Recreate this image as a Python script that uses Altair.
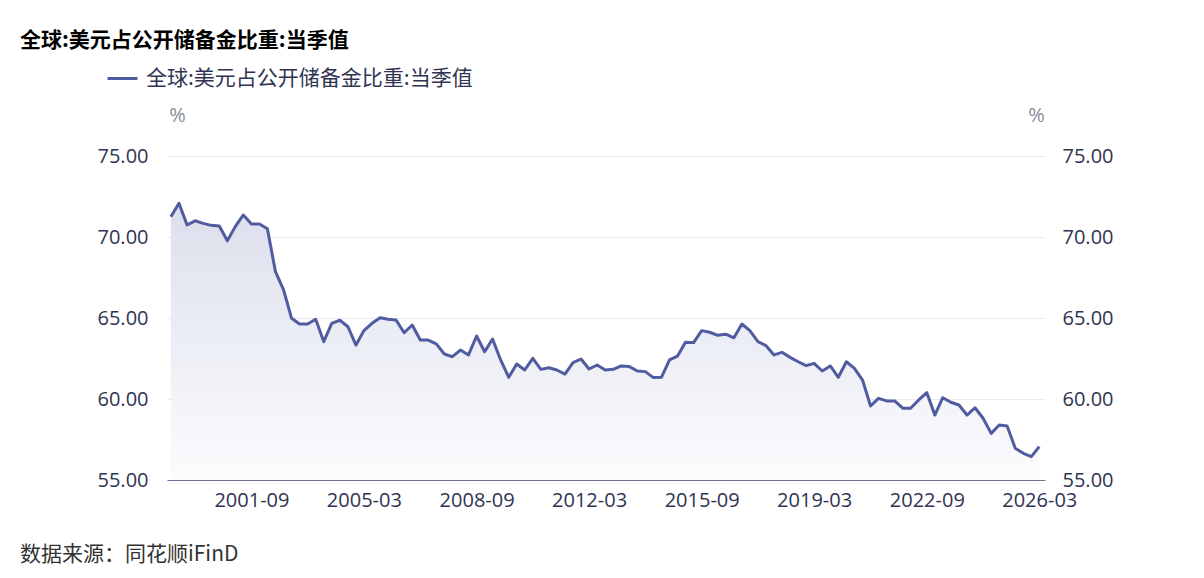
import altair as alt
import pandas as pd

series_name = "全球:美元占公开储备金比重:当季值"
title_text = "全球:美元占公开储备金比重:当季值"
source_text = "数据来源：同花顺iFinD"

# quarterly values, 1999-03 .. 2026-03
values = [
    71.25, 72.08, 70.74, 71.00, 70.84, 70.72, 70.68, 69.77, 70.64, 71.36,
    70.80, 70.80, 70.51, 67.86, 66.73, 64.98, 64.63, 64.63, 64.92, 63.54,
    64.67, 64.86, 64.46, 63.33, 64.22, 64.67, 65.02, 64.92, 64.88, 64.09,
    64.57, 63.64, 63.64, 63.40, 62.78, 62.61, 63.02, 62.72, 63.89, 62.92,
    63.70, 62.41, 61.34, 62.16, 61.79, 62.51, 61.83, 61.93, 61.79, 61.54,
    62.24, 62.47, 61.85, 62.10, 61.79, 61.83, 62.04, 62.00, 61.73, 61.69,
    61.32, 61.34, 62.41, 62.65, 63.50, 63.48, 64.22, 64.12, 63.93, 64.00,
    63.78, 64.63, 64.22, 63.54, 63.29, 62.72, 62.88, 62.57, 62.30, 62.06,
    62.20, 61.73, 62.04, 61.34, 62.30, 61.89, 61.17, 59.57, 60.04, 59.88,
    59.88, 59.43, 59.43, 59.94, 60.39, 59.01, 60.08, 59.80, 59.63, 59.01,
    59.46, 58.81, 57.88, 58.40, 58.33, 56.96, 56.65, 56.44, 57.06,
]
dates = [d.strftime("%Y-%m-%d") for d in pd.date_range("1999-03-01", periods=len(values), freq="3MS")]
x_tick_labels = ["2001-09", "2005-03", "2008-09", "2012-03", "2015-09", "2019-03", "2022-09", "2026-03"]
y_ticks = [55, 60, 65, 70, 75]

df = pd.DataFrame({"date": dates, "value": values, "series": series_name})

LINE = "#505ba0"
LABEL = "#2f3452"
GRID = "#e9eaf3"
FONT = "Open Sans, Noto Sans CJK SC"
CJK = "Noto Sans CJK SC"

x_vals = [alt.DateTime(year=int(s[:4]), month=int(s[5:]), date=1, utc=True) for s in x_tick_labels]
x_enc = alt.X(
    "date:T",
    scale=alt.Scale(type="utc", domain=[alt.DateTime(year=1999, month=1, date=16, utc=True),
                                        alt.DateTime(year=2026, month=5, date=5, utc=True)]),
    axis=alt.Axis(values=x_vals, labelExpr="utcFormat(datum.value, '%Y-%m')", title=None,
                  grid=False, ticks=False, domainColor="#6e7399", domainWidth=1.2,
                  labelColor=LABEL, labelFont=FONT, labelFontSize=20, labelPadding=10,
                  labelFlush=False, labelOverlap=False),
)

yscale = alt.Scale(domain=[55, 75], nice=False, zero=False)

area = alt.Chart(df).mark_area(
    color=alt.Gradient(gradient="linear",
                       stops=[alt.GradientStop(color="#dcdfec", offset=0),
                              alt.GradientStop(color="#fcfcfe", offset=1)],
                       x1=1, x2=1, y1=0, y2=1),
).encode(
    x=x_enc,
    y=alt.Y("value:Q", scale=yscale,
            axis=alt.Axis(orient="right", values=y_ticks, format=".2f", grid=False, ticks=False,
                          domain=False, labelColor=LABEL, labelFont=FONT, labelFontSize=20,
                          labelPadding=17, title="%", titleAngle=0, titleX=-9, titleY=-41,
                          titleAlign="center", titleBaseline="middle", titleColor="#8a8d9a",
                          titleFont=FONT, titleFontSize=20, titleFontWeight="normal")),
    y2=alt.datum(55),
)

line = alt.Chart(df).mark_line(strokeWidth=3, strokeJoin="round").encode(
    x=x_enc,
    y=alt.Y("value:Q", scale=yscale,
            axis=alt.Axis(orient="left", values=y_ticks, format=".2f", grid=True, gridColor=GRID,
                          gridWidth=1, ticks=False, domain=False, labelColor=LABEL, labelFont=FONT,
                          labelFontSize=20, labelPadding=19, title="%", titleAngle=0, titleX=10,
                          titleY=-41, titleAlign="center", titleBaseline="middle",
                          titleColor="#8a8d9a", titleFont=FONT, titleFontSize=20,
                          titleFontWeight="normal")),
    color=alt.Color("series:N", scale=alt.Scale(range=[LINE]),
                    legend=alt.Legend(orient="none", legendX=-61, legendY=-94, title=None,
                                      symbolType="stroke", symbolSize=900, symbolStrokeWidth=3,
                                      labelFont=CJK, labelFontSize=21, labelColor=LABEL,
                                      labelOffset=7, labelLimit=600)),
)

title = alt.Chart(pd.DataFrame({"t": [title_text]})).mark_text(
    align="left", baseline="middle", font=CJK, fontSize=21, fontWeight="bold", color="#000000"
).encode(text="t:N", x=alt.value(-147), y=alt.value(-115))

source = alt.Chart(pd.DataFrame({"t": [source_text]})).mark_text(
    align="left", baseline="middle", font=CJK, fontSize=21, color="#333333"
).encode(text="t:N", x=alt.value(-147), y=alt.value(399))

chart = alt.layer(area, line, title, source).resolve_scale(y="independent").properties(
    width=878, height=324,
    autosize=alt.AutoSizeParams(type="none"),
    padding={"left": 159, "top": 148, "right": 151, "bottom": 88},
).configure_view(stroke=None)

chart.save("out.html", embed_options={"renderer": "svg", "actions": False})
